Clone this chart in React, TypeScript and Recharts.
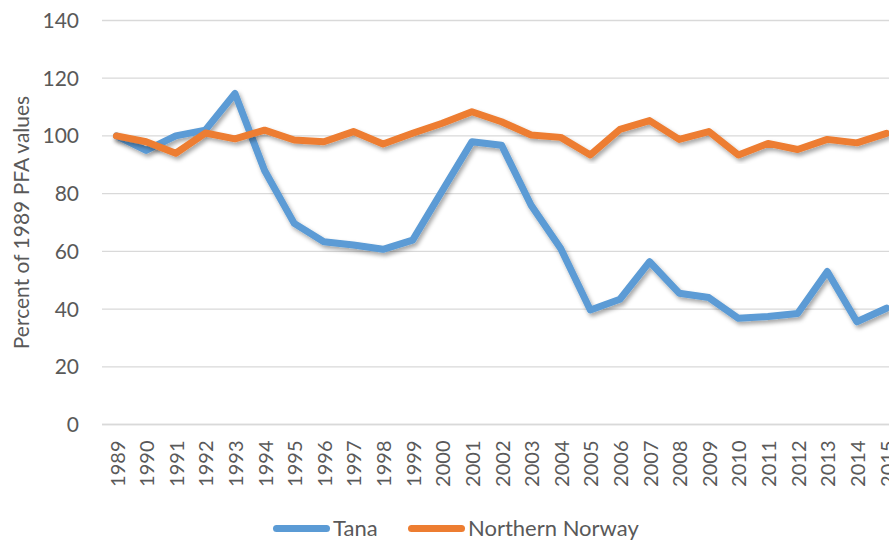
import React from 'react';
import { LineChart, Line, XAxis, YAxis, CartesianGrid, Legend } from 'recharts';

const years = ['1989','1990','1991','1992','1993','1994','1995','1996','1997','1998','1999','2000','2001','2002','2003','2004','2005','2006','2007','2008','2009','2010','2011','2012','2013','2014','2015'];
const tana = [100, 95, 100, 102, 114.7, 88, 69.7, 63.3, 62.2, 60.7, 63.9, 81, 98, 96.8, 76, 61, 39.7, 43.4, 56.4, 45.5, 44, 36.8, 37.4, 38.5, 53, 35.6, 40.3];
const northernNorway = [100, 98, 94, 101, 99, 102, 98.6, 98, 101.5, 97.2, 100.9, 104.4, 108.4, 104.9, 100.3, 99.5, 93.4, 102.3, 105.3, 98.8, 101.5, 93.4, 97.4, 95.3, 98.8, 97.6, 100.9];
const yTicks = [0, 20, 40, 60, 80, 100, 120, 140];
const seriesNames = ['Tana', 'Northern Norway'];
const seriesColors = ['#5B9BD5', '#ED7D31'];
const yLabel = 'Percent of 1989 PFA values';

const data = years.map((y, i) => ({ year: y, tana: tana[i], north: northernNorway[i] }));

const FONT = 'Lato, "Open Sans", sans-serif';
const TEXT = '#595959';

const XTick = (props: any) => {
  const { x, y, payload } = props;
  return (
    <text x={x} y={y} transform={`rotate(-90, ${x}, ${y})`} textAnchor="end" dominantBaseline="central"
      fill={TEXT} fontSize={20} fontFamily={FONT}>{payload.value}</text>
  );
};

const LegendContent = () => (
  <div style={{ position: 'relative', width: 889, height: 24, fontFamily: FONT, fontSize: 22, color: TEXT }}>
    {seriesNames.map((name, i) => (
      <div key={name} style={{ position: 'absolute', left: i === 0 ? 273 : 408, top: 0, height: 24, display: 'flex', alignItems: 'center', whiteSpace: 'nowrap' }}>
        <div style={{ width: 57, height: 7, borderRadius: 4, background: seriesColors[i] }} />
        <span style={{ marginLeft: 3, lineHeight: '24px' }}>{name}</span>
      </div>
    ))}
  </div>
);

export default function App() {
  return (
    <div style={{ position: 'fixed', left: 0, top: 0, width: 889, height: 540, overflow: 'hidden', background: '#fff' }}>
      <svg width={0} height={0} style={{ position: 'absolute' }}>
        <defs>
          <filter id="lineShadow" x="-10%" y="-10%" width="120%" height="130%">
            <feDropShadow dx={2} dy={3} stdDeviation={2} floodColor="#000" floodOpacity={0.35} />
          </filter>
        </defs>
      </svg>
      <LineChart width={901} height={540} data={data} margin={{ top: 20.5, right: 0, bottom: 21.5, left: 0 }}>
        <CartesianGrid vertical={false} stroke="#D9D9D9" strokeWidth={1.3} />
        <XAxis dataKey="year" interval={0} tick={<XTick />} tickLine={false} tickSize={0} tickMargin={16}
          axisLine={{ stroke: '#D9D9D9', strokeWidth: 1.3 }} height={70} padding={{ left: 14.5, right: 14.5 }} />
        <YAxis domain={[0, 140]} ticks={yTicks} width={102} axisLine={false} tickLine={false} tickSize={0} tickMargin={23}
          tick={{ fill: TEXT, fontSize: 21, fontFamily: FONT }}
          label={{ value: yLabel, angle: -90, position: 'center', dx: -29, fill: TEXT, fontSize: 21, fontFamily: FONT }} />
        <Legend content={<LegendContent />} wrapperStyle={{ top: 516, left: 0, bottom: 'auto', width: 889, height: 24 }} />
        <Line type="linear" dataKey="tana" name={seriesNames[0]} stroke={seriesColors[0]} strokeWidth={7}
          strokeLinejoin="round" strokeLinecap="round" dot={false} activeDot={false} isAnimationActive={false}
          filter="url(#lineShadow)" />
        <Line type="linear" dataKey="north" name={seriesNames[1]} stroke={seriesColors[1]} strokeWidth={7}
          strokeLinejoin="round" strokeLinecap="round" dot={false} activeDot={false} isAnimationActive={false}
          filter="url(#lineShadow)" />
      </LineChart>
    </div>
  );
}
